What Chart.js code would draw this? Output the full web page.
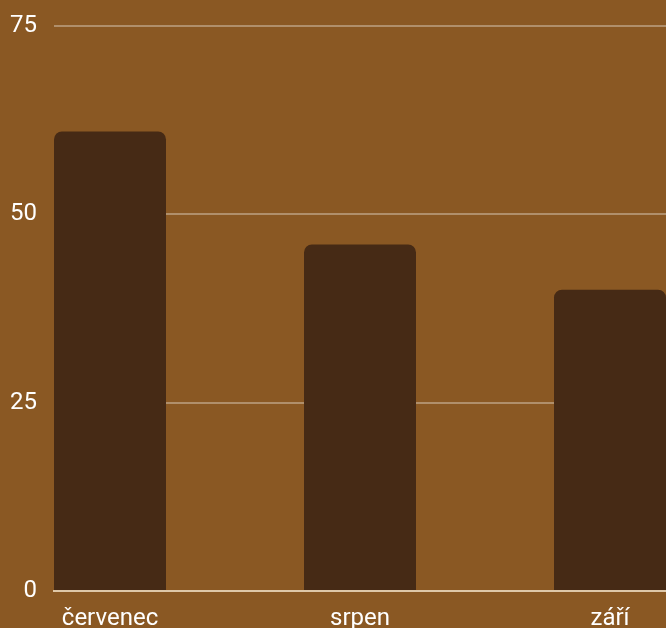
<!DOCTYPE html>
<html>
<head>
<meta charset="utf-8">
<script src="https://cdn.jsdelivr.net/npm/chart.js@4"></script>
<style>
  html, body { margin: 0; padding: 0; background: #8a5823; }
  #wrap { width: 666px; height: 628px; position: relative; }
</style>
</head>
<body>
<div id="wrap"><canvas id="c"></canvas></div>
<script>
const categories = ["červenec", "srpen", "září"];
const values = [61, 46, 40];
const yTicks = [0, 25, 50, 75];

Chart.defaults.font.family = "Roboto, 'Noto Sans', sans-serif";
Chart.defaults.font.size = 24;
Chart.defaults.color = "#ffffff";

new Chart(document.getElementById("c"), {
  type: "bar",
  data: {
    datasets: [{
      data: values.map((v, i) => ({ x: i, y: v })),
      backgroundColor: "#462a15",
      borderRadius: 8,
      categoryPercentage: 1,
      barPercentage: 0.448
    }]
  },
  options: {
    responsive: true,
    maintainAspectRatio: false,
    animation: false,
    layout: { padding: { left: 0, top: 26, right: 0, bottom: 0 } },
    plugins: { legend: { display: false }, tooltip: { enabled: false } },
    scales: {
      x: {
        type: "linear",
        min: -0.224,
        max: categories.length - 1 + 0.224,
        offset: false,
        grid: { display: false },
        border: { display: true, color: "#dfc8a8", width: 2 },
        afterFit: (axis) => { axis.height = 37; axis.paddingLeft = 0; axis.paddingRight = 0; },
        ticks: {
          stepSize: 1,
          includeBounds: false,
          padding: 6,
          maxRotation: 0,
          autoSkip: false,
          callback: (v) => categories[v] ?? ""
        }
      },
      y: {
        min: yTicks[0],
        max: yTicks[yTicks.length - 1],
        afterBuildTicks: (axis) => { axis.ticks = yTicks.map(v => ({ value: v })); },
        afterFit: (axis) => { axis.width = 54; axis.paddingTop = 0; axis.paddingBottom = 0; },
        grid: { color: "rgba(255,255,255,0.33)", drawTicks: false, lineWidth: 2 },
        border: { display: false },
        ticks: { padding: 17 }
      }
    }
  }
});
</script>
</body>
</html>
